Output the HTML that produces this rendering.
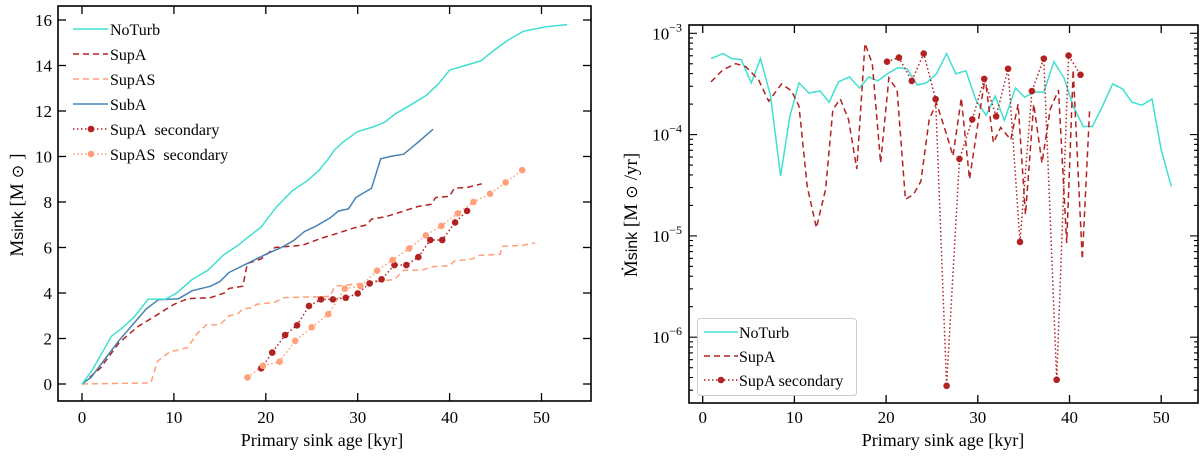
<!DOCTYPE html>
<html><head><meta charset="utf-8"><style>
body{margin:0;background:#fff;width:1200px;height:455px;overflow:hidden}
svg{font-family:"Liberation Serif",serif}
</style></head><body>
<svg id="s" width="1200" height="455"></svg>
<script>
// ---------- Left panel data ----------
const noTurbX=[0,1.1,3.2,4.5,5.7,7.2,9.1,10.3,12,13.7,15.4,17,17.9,19.5,21.2,22.9,24.6,25.8,26.7,27.5,28.3,30,31.7,32.9,34.2,35.9,37.5,38.8,40,41.7,43.4,44.6,46.3,48,49.2,50.5,52.8];
const noTurbM=[0,0.6,2.1,2.5,2.96,3.73,3.73,4,4.6,5,5.67,6.1,6.4,6.9,7.8,8.5,8.96,9.4,9.84,10.3,10.6,11.1,11.3,11.5,11.9,12.3,12.7,13.2,13.8,14,14.2,14.6,15.1,15.5,15.6,15.7,15.8];
const subAX=[0,1,2.5,4,5.5,7,8.3,10.5,12,14,15,16,18,20,21.7,23,24.2,25.5,27,27.9,29,29.8,31.5,32.5,33.5,35,36.5,38.2];
const subAM=[0,0.3,1.1,1.9,2.6,3.3,3.7,3.75,4.1,4.3,4.5,4.9,5.3,5.7,6,6.3,6.7,6.95,7.3,7.6,7.7,8.2,8.6,9.9,10,10.1,10.6,11.2];
const supAX=[0,2,4,6,8,10,11.5,14,15.5,16,17.5,18,19.5,21,24,26,28,29.5,31,31.5,33,35,36.5,38,38.5,40,40.5,42,43.5];
const supAM=[0,0.7,1.8,2.5,3.0,3.5,3.75,3.8,4.0,4.2,4.3,5.3,5.5,6,6.1,6.4,6.65,6.85,7.0,7.25,7.35,7.6,7.8,7.9,8.2,8.25,8.6,8.65,8.8];
const supASX=[0,7.5,8.2,9.5,11.5,12.5,13.5,15,16,17,17.5,18.5,19,21,22,27,27.5,30,32,34,35,37,38,40,40.5,42.5,43,45.5,45.7,48,49.3];
const supASM=[0,0.05,1.0,1.4,1.6,2.2,2.6,2.6,3,3.1,3.3,3.35,3.5,3.6,3.8,3.85,4.3,4.4,4.5,4.6,5.0,5.0,5.15,5.2,5.4,5.5,5.65,5.7,6.05,6.1,6.2];
const supASecX=[19.5,20.7,22.1,23.4,24.7,26,27.3,28.7,30,31.3,32.6,34,35.3,36.6,37.9,39.2,40.6,41.9];
const supASecM=[0.69,1.38,2.15,2.58,3.43,3.72,3.72,3.79,3.98,4.42,4.6,5.23,5.23,5.58,6.33,6.33,7.1,7.61];
const supASSecX=[18,19.7,21.5,23.2,25,26.8,28.6,30.3,32.1,33.8,35.6,37.4,39.1,40.9,42.6,44.4,46.1,47.9];
const supASSecM=[0.29,0.8,0.98,1.9,2.49,3.07,4.19,4.3,4.98,5.45,5.96,6.53,6.95,7.5,8.0,8.36,8.86,9.4];
const leftXTicks=[0,10,20,30,40,50];
const leftYTicks=[0,2,4,6,8,10,12,14,16];
// ---------- Right panel data (log10 of Mdot) ----------
const rNoTurbX=[0.9,2.2,3.2,4.2,5.3,6.3,7.4,8.5,9.5,10.5,11.6,12.8,13.8,14.8,16,17.1,18.1,19.1,20.3,21.3,22.3,23.4,24.4,25.5,26.6,27.6,28.7,29.8,30.9,31.9,32.9,34.1,35.1,36.2,37.2,38.3,39.4,40.4,41.5,42.5,43.6,44.7,45.8,46.8,47.9,49,50,51.1];
const rNoTurbL=[-3.25,-3.2,-3.25,-3.26,-3.49,-3.25,-3.62,-4.41,-3.82,-3.49,-3.59,-3.57,-3.68,-3.48,-3.43,-3.54,-3.43,-3.47,-3.39,-3.34,-3.35,-3.51,-3.49,-3.4,-3.2,-3.4,-3.37,-3.66,-3.81,-3.62,-3.86,-3.54,-3.63,-3.58,-3.58,-3.28,-3.44,-3.72,-3.92,-3.92,-3.72,-3.5,-3.55,-3.68,-3.71,-3.65,-4.15,-4.51];
const rSupAX=[0.9,2.2,3.6,4.7,6.1,7.2,8.6,9.7,10.5,11.4,12.4,13.4,14.2,15,15.9,16.8,17.7,18.5,19.4,20.3,21.2,22.1,23,23.8,24.7,25.5,26.5,27.3,28.2,29.1,30,30.8,31.7,32.5,33.6,34.4,35.2,36.1,37,37.9,38.8,39.7,40.4,41.4,42.2];
const rSupAL=[-3.48,-3.36,-3.3,-3.33,-3.46,-3.67,-3.5,-3.57,-3.72,-4.51,-4.92,-4.54,-3.75,-3.65,-3.85,-4.34,-3.1,-3.3,-4.28,-3.44,-3.56,-4.64,-4.59,-4.46,-3.85,-3.69,-3.97,-4.21,-3.64,-4.44,-3.9,-3.44,-4.08,-3.93,-4.05,-3.7,-4.79,-3.7,-4.28,-3.75,-3.56,-5.07,-3.36,-5.23,-3.74];
const rSecX=[20.1,21.4,22.8,24.1,25.4,26.6,28,29.4,30.7,32,33.3,34.6,35.9,37.2,38.6,39.9,41.2];
const rSecL=[-3.28,-3.24,-3.47,-3.2,-3.65,-6.48,-4.24,-3.85,-3.45,-3.82,-3.35,-5.06,-3.57,-3.25,-6.42,-3.22,-3.41];
const rightXTicks=[0,10,20,30,40,50];
const rightYTicks=[-3,-4,-5,-6];

const NS="http://www.w3.org/2000/svg";
const S=document.getElementById('s');
function el(t,a,p){const e=document.createElementNS(NS,t);for(const k in a)e.setAttribute(k,a[k]);(p||S).appendChild(e);return e;}
const lx=v=>82+v*9.19, ly=v=>384-v*22.75;
const rx=v=>702.7+v*9.17, ry=v=>33.3+(-3-v)*101.3;
const CY='#40e0d0',RD='#b22222',SA='#ffa07a',BL='#4682b4';

function line(xs,ys,fx,fy,col,dash,name){
  const d=xs.map((x,i)=>(i?'L':'M')+fx(x).toFixed(1)+','+fy(ys[i]).toFixed(1)).join('');
  const p=el('path',{d:d,fill:'none',stroke:col,'stroke-width':1.5,'stroke-dasharray':dash||'none'});
  
  
}
function dots(xs,ys,fx,fy,col,name){
  xs.forEach((x,i)=>{const c=el('circle',{cx:fx(x),cy:fy(ys[i]),r:3.3,fill:col});
    
    });
}
function frame(x0,y0,x1,y1,name){
  const r=el('rect',{x:x0,y:y0,width:x1-x0,height:y1-y0,fill:'none',stroke:'#000','stroke-width':1.6});
  
  
}
function txt(x,y,s,size,anchor,name){
  const t=el('text',{x:x,y:y,'font-size':size,'text-anchor':anchor||'start'});t.textContent=s;
  
  
  return t;
}

// ===== Left panel =====
const L0=58,L1=591,LT=6,LB=401;
leftXTicks.forEach(v=>{const x=lx(v);el('line',{x1:x,x2:x,y1:LB,y2:LB-8,stroke:'#000','stroke-width':1.3});el('line',{x1:x,x2:x,y1:LT,y2:LT+8,stroke:'#000','stroke-width':1.3});
  txt(x,423,String(v),17,'middle','x-tick-label');});
leftYTicks.forEach(v=>{const y=ly(v);el('line',{x1:L0,x2:L0+8,y1:y,y2:y,stroke:'#000','stroke-width':1.3});el('line',{x1:L1,x2:L1-8,y1:y,y2:y,stroke:'#000','stroke-width':1.3});
  txt(52,y+6,String(v),17,'end','y-tick-label');});
line(supASX,supASM,lx,ly,SA,'6,4','supas-line');
line(supAX,supAM,lx,ly,RD,'6,4','supa-line');
line(subAX,subAM,lx,ly,BL,'','suba-line');
line(noTurbX,noTurbM,lx,ly,CY,'','noturb-line');
line(supASecX,supASecM,lx,ly,RD,'1.5,2.5','supa-secondary-line');
dots(supASecX,supASecM,lx,ly,RD,'supa-secondary-point');
line(supASSecX,supASSecM,lx,ly,SA,'1.5,2.5','supas-secondary-line');
dots(supASSecX,supASSecM,lx,ly,SA,'supas-secondary-point');
frame(L0,LT,L1,LB,'left-plot-frame');
txt(322,446,'Primary sink age [kyr]',18,'middle','left-x-axis-title');
const lyt=txt(0,0,'',19,'middle','left-y-axis-title');
lyt.setAttribute('transform','translate(23,205) rotate(-90)');
lyt.innerHTML='M<tspan font-family="Liberation Sans" font-size="16">sink</tspan> [M<tspan font-family="DejaVu Sans" font-size="16"> ⊙ </tspan>]';
const lg=[['NoTurb',CY,'',0],['SupA',RD,'6,4',0],['SupAS',SA,'6,4',0],['SubA',BL,'',0],['SupA  secondary',RD,'1.5,2.5',1],['SupAS  secondary',SA,'1.5,2.5',1]];
lg.forEach((e,i)=>{const y=29+i*25;const g=el('g',{});
  el('line',{x1:73,x2:108,y1:y,y2:y,stroke:e[1],'stroke-width':1.5,'stroke-dasharray':e[2]||'none'},g);
  if(e[3])el('circle',{cx:91,cy:y,r:3.3,fill:e[1]},g);
  const t=el('text',{x:110,y:y+6,'font-size':16},g);t.textContent=e[0].replace(/  /g,'\u00a0\u00a0');});

// ===== Right panel =====
const R0=689,R1=1198,RT=25,RB=403;
rightXTicks.forEach(v=>{const x=rx(v);el('line',{x1:x,x2:x,y1:RB,y2:RB-8,stroke:'#000','stroke-width':1.3});el('line',{x1:x,x2:x,y1:RT,y2:RT+8,stroke:'#000','stroke-width':1.3});
  txt(x,423,String(v),17,'middle','x-tick-label');});
for(let d=-7;d<=-3;d++){for(let m=1;m<10;m++){const lv=d+Math.log10(m);if(lv>-3||ry(lv)>RB)continue;const y=ry(lv);const len=m==1?8:4;
  el('line',{x1:R0,x2:R0+len,y1:y,y2:y,stroke:'#000','stroke-width':1.1});el('line',{x1:R1,x2:R1-len,y1:y,y2:y,stroke:'#000','stroke-width':1.1});}}
rightYTicks.forEach(v=>{const t=txt(682,ry(v)+6,'',17,'end','y-tick-label');t.innerHTML='10<tspan dy="-8" font-size="12">−'+(-v)+'</tspan>';});
line(rNoTurbX,rNoTurbL,rx,ry,CY,'','noturb-rate-line');
line(rSupAX,rSupAL,rx,ry,RD,'6,4','supa-rate-line');
line(rSecX,rSecL,rx,ry,RD,'1.5,2.5','supa-secondary-rate-line');
dots(rSecX,rSecL,rx,ry,RD,'supa-secondary-rate-point');
frame(R0,RT,R1,RB,'right-plot-frame');
txt(943,446,'Primary sink age [kyr]',18,'middle','right-x-axis-title');
const ryt=txt(0,0,'',19,'middle','right-y-axis-title');
ryt.setAttribute('transform','translate(637,215) rotate(-90)');
ryt.innerHTML='Ṁ<tspan font-family="Liberation Sans" font-size="16">sink</tspan> [M<tspan font-family="DejaVu Sans" font-size="16"> ⊙ </tspan>/yr]';
const rl=el('rect',{x:697.5,y:318.5,width:159,height:77,rx:3,fill:'#fff','fill-opacity':0.8,stroke:'#ccc'});


const rg=[['NoTurb',CY,'',0],['SupA',RD,'6,4',0],['SupA secondary',RD,'1.5,2.5',1]];
rg.forEach((e,i)=>{const y=332+i*24;const g=el('g',{});
  el('line',{x1:704,x2:738,y1:y,y2:y,stroke:e[1],'stroke-width':1.5,'stroke-dasharray':e[2]||'none'},g);
  if(e[3])el('circle',{cx:721,cy:y,r:3.3,fill:e[1]},g);
  const t=el('text',{x:739,y:y+6,'font-size':16},g);t.textContent=e[0];});
</script>
</body></html>
